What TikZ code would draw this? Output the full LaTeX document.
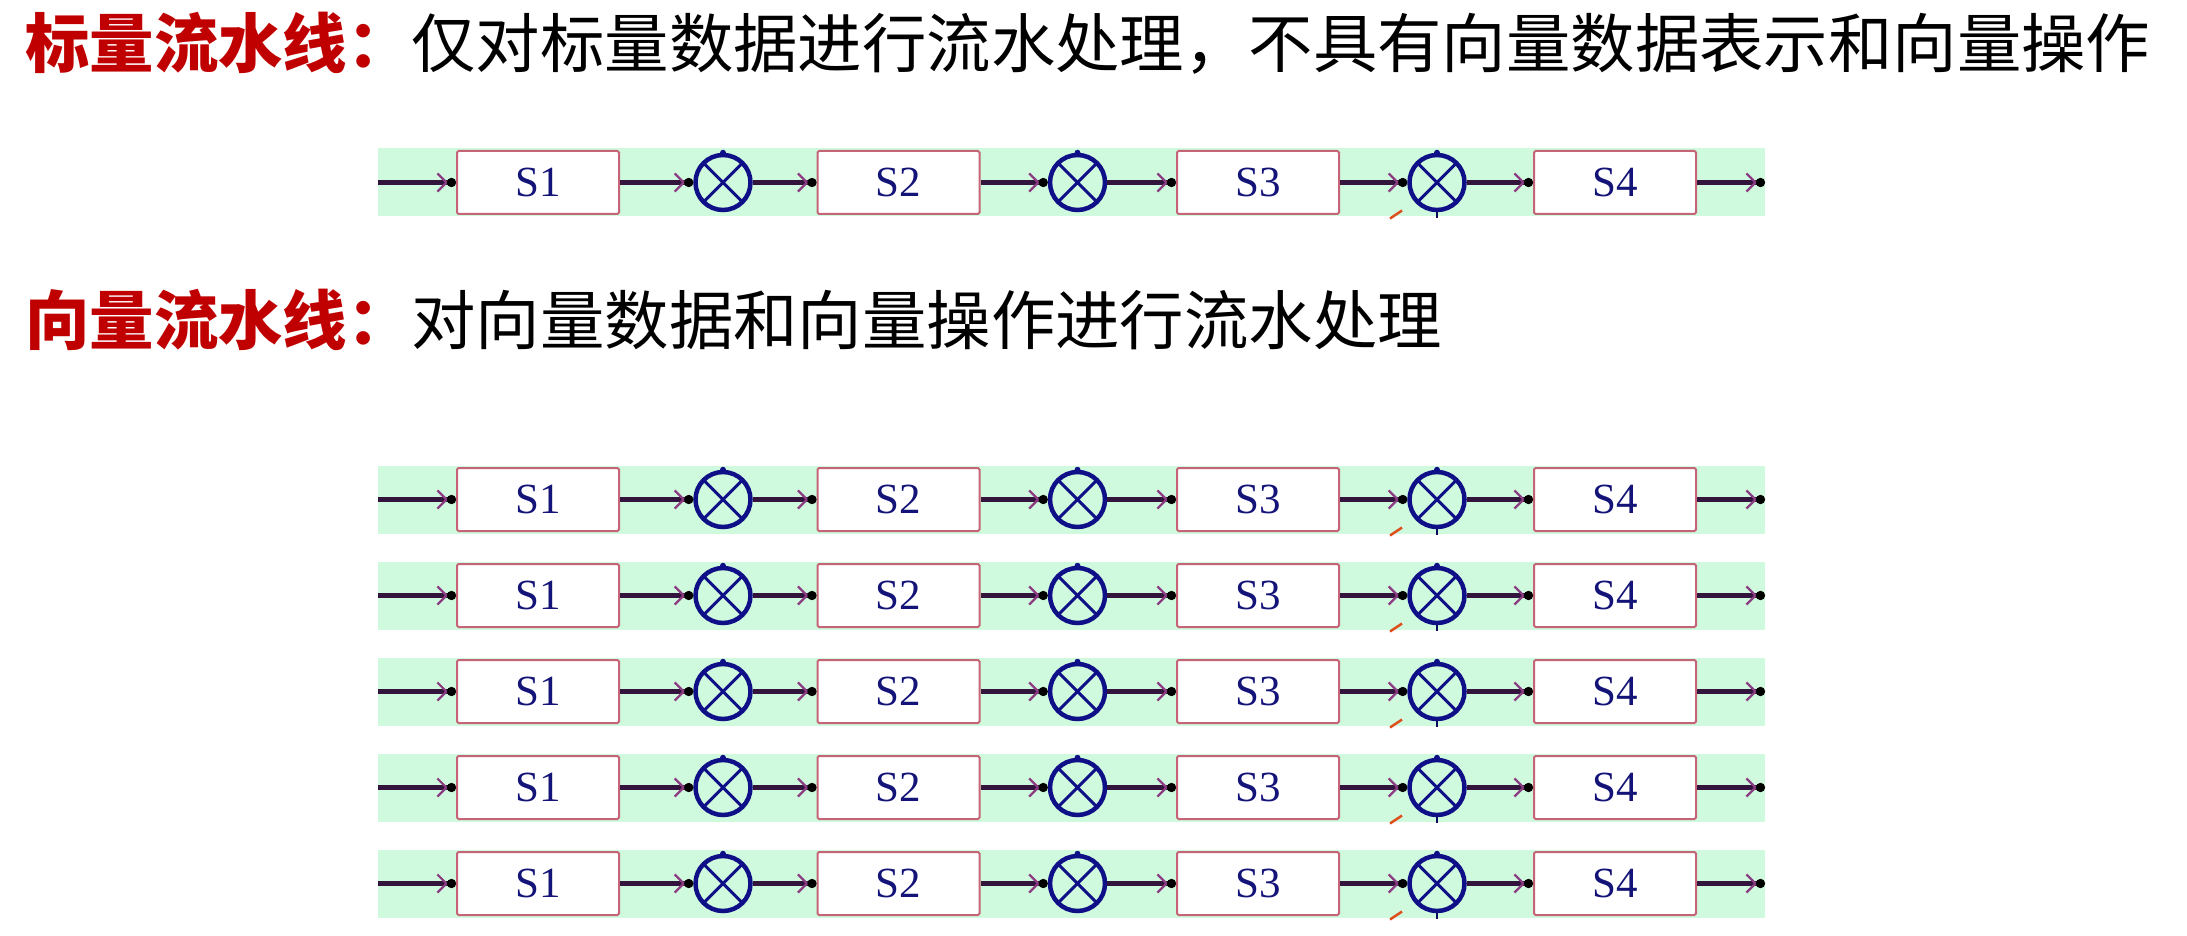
\documentclass[tikz,border=0pt]{standalone}
\usepackage{fontspec}
\newfontfamily\cjk{Noto Sans CJK SC}
\newfontfamily\labfont{Liberation Serif}
\usetikzlibrary{arrows.meta}
\definecolor{titlered}{RGB}{192,0,0}
\definecolor{bandgreen}{RGB}{208,250,222}
\definecolor{boxedge}{RGB}{196,100,118}
\definecolor{circblue}{RGB}{15,15,135}
\definecolor{flowline}{RGB}{50,20,60}
\definecolor{barbcol}{RGB}{140,60,130}
\definecolor{labelblue}{RGB}{20,20,120}
\definecolor{slashred}{RGB}{220,80,30}
\begin{document}
\begin{tikzpicture}[x=1pt,y=-1pt,
  band/.style={fill=bandgreen, draw=none},
  stagebox/.style={draw=boxedge, fill=white, line width=2pt, rounded corners=1.5pt,
    minimum width=162pt, minimum height=63pt, inner sep=0pt,
    font=\labfont\fontsize{43}{43}\selectfont, text=labelblue},
  mul/.style={circle, draw=circblue, line width=4.5pt, minimum size=55pt, inner sep=0pt,
    fill=bandgreen,
    path picture={\draw[circblue, line width=3pt]
      (path picture bounding box.south west) -- (path picture bounding box.north east)
      (path picture bounding box.north west) -- (path picture bounding box.south east);}},
  flow/.style={draw=flowline, line width=4.5pt,
    -{Straight Barb[length=9pt,width=18pt,line width=2.2pt,color=barbcol,sep=-1pt]Circle[length=9pt,color=black]}},
  title/.style={anchor=base west, inner sep=0pt, font=\cjk\fontsize{64.4}{70}\selectfont}
]
\useasboundingbox (0,0) rectangle (2187,936);

\node[title] (t1) at (25,67.5) {\textcolor{titlered}{\bfseries 标量流水线：}仅对标量数据进行流水处理，不具有向量数据表示和向量操作};
\node[title] (t2) at (25,344.5) {\textcolor{titlered}{\bfseries 向量流水线：}对向量数据和向量操作进行流水处理};

\foreach \r/\y in {0/182.5, 1/499.5, 2/595.5, 3/691.5, 4/787.5, 5/883.5} {
  \fill[band] (378,\y-34) rectangle (1765,\y+34);
  \coordinate (in-\r) at (378,\y);
  \coordinate (out-\r) at (1765,\y);
  \node[stagebox] (s1-\r) at (538,\y) {S1};
  \node[mul] (m1-\r) at (723,\y) {};
  \node[stagebox] (s2-\r) at (898.5,\y) {S2};
  \node[mul] (m2-\r) at (1077.5,\y) {};
  \node[stagebox] (s3-\r) at (1258,\y) {S3};
  \node[mul] (m3-\r) at (1437,\y) {};
  \node[stagebox] (s4-\r) at (1615,\y) {S4};
  \draw[flow] (in-\r) -- (s1-\r);
  \draw[flow] (s1-\r) -- (m1-\r);
  \draw[flow] (m1-\r) -- (s2-\r);
  \draw[flow] (s2-\r) -- (m2-\r);
  \draw[flow] (m2-\r) -- (s3-\r);
  \draw[flow] (s3-\r) -- (m3-\r);
  \draw[flow] (m3-\r) -- (s4-\r);
  \draw[flow] (s4-\r) -- (out-\r);
  \fill[circblue] (m1-\r.north) circle (3pt);
  \fill[circblue] (m2-\r.north) circle (3pt);
  \fill[circblue] (m3-\r.north) circle (3pt);
  \draw[circblue!70!black, line width=2.5pt] (m3-\r.south) -- ++(0,6);
  \draw[slashred, line width=2.5pt] ([shift={(-47,36)}]m3-\r.center) -- ([shift={(-35,28)}]m3-\r.center);
}
\end{tikzpicture}
\end{document}
